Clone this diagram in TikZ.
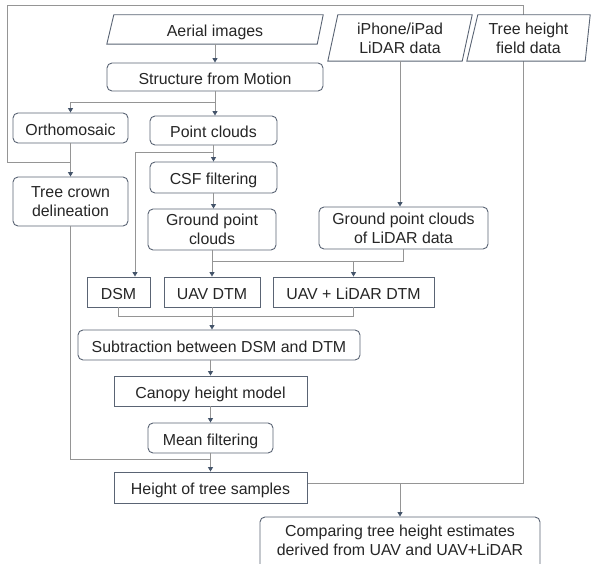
\documentclass[tikz,border=0pt]{standalone}
\usepackage{fontspec}
\setmainfont{Liberation Sans}
\usetikzlibrary{arrows.meta,calc,backgrounds}

\definecolor{boxcol}{HTML}{5A6474}
\definecolor{linecol}{HTML}{959595}
\definecolor{tipcol}{HTML}{44546A}
\definecolor{txtcol}{HTML}{262626}

\tikzset{
  base/.style={inner sep=0pt, align=center, text=txtcol,
    font=\fontsize{15.9}{19}\selectfont},
  oneline/.style={text height=14.5pt, text depth=0pt},
  rbox/.style={base, draw=boxcol, line width=0.9pt, fill=white,
    rounded corners=5pt},
  sbox/.style={base, draw=boxcol, line width=0.9pt, fill=white},
  pbox/.style={base},
  conn/.style={draw=linecol, line width=0.9pt},
  arr/.style={conn, -{Triangle[width=5pt,length=4.5pt,color=tipcol]}},
  para/.style={draw=boxcol, line width=0.9pt, fill=white},
}

\begin{document}
\begin{tikzpicture}[x=1pt, y=-1pt]
\useasboundingbox (0,0) rectangle (591,564);
\clip (0,0) rectangle (591,564);

% input data (parallelograms drawn around plain nodes)
\node[pbox, minimum width=216pt, minimum height=29pt] (aerial) at (215,29.5) {};
\node[pbox, minimum width=144pt, minimum height=46pt] (lidar) at (400,38) {};
\node[pbox, minimum width=123pt, minimum height=46pt] (field) at (528.5,38) {};
\draw[para] ([xshift=7pt]aerial.north west) -- (aerial.north east)
  -- ([xshift=-6pt]aerial.south east) -- (aerial.south west) -- cycle;
\draw[para] ([xshift=10pt]lidar.north west) -- (lidar.north east)
  -- ([xshift=-10pt]lidar.south east) -- (lidar.south west) -- cycle;
\draw[para] ([xshift=11pt]field.north west) -- (field.north east)
  -- ([xshift=-5pt]field.south east) -- (field.south west) -- cycle;
\node[base, oneline] at (aerial) {Aerial images};
\node[base] at (lidar) {iPhone/iPad\\LiDAR data};
\node[base] at (field) {Tree height\\field data};

% processing steps
\node[rbox, oneline, minimum width=216pt, minimum height=28pt] (sfm) at (215,77) {Structure from Motion};
\node[rbox, oneline, minimum width=115pt, minimum height=30pt] (ortho) at (70.5,128) {Orthomosaic};
\node[rbox, oneline, minimum width=127pt, minimum height=29pt] (pc) at (213.5,130.5) {Point clouds};
\node[rbox, oneline, minimum width=127pt, minimum height=31pt] (csf) at (213.5,177.5) {CSF filtering};
\node[rbox, minimum width=115pt, minimum height=49pt] (crown) at (70.5,201.5) {Tree crown\\delineation};
\node[rbox, minimum width=128pt, minimum height=41pt] (gpc) at (212,229.5) {Ground point\\clouds};
\node[rbox, minimum width=169pt, minimum height=42pt] (gpl) at (403.5,228) {Ground point clouds\\of LiDAR data};
\node[sbox, oneline, minimum width=63pt, minimum height=30pt] (dsm) at (118.5,292) {DSM};
\node[sbox, oneline, minimum width=96pt, minimum height=30pt] (uavdtm) at (212,292) {UAV DTM};
\node[sbox, oneline, minimum width=161pt, minimum height=30pt] (uldtm) at (353.5,292) {UAV + LiDAR DTM};
\node[rbox, oneline, minimum width=282pt, minimum height=30pt] (sub) at (219,345) {Subtraction between DSM and DTM};
\node[sbox, oneline, minimum width=193pt, minimum height=30pt] (chm) at (210.5,391) {Canopy height model};
\node[rbox, oneline, minimum width=125pt, minimum height=30pt] (mean) at (210.5,438) {Mean filtering};
\node[sbox, oneline, minimum width=193pt, minimum height=31pt] (hts) at (210.5,487.5) {Height of tree samples};
\node[rbox, minimum width=280pt, minimum height=58pt] (cmp) at (400,546)
  {Comparing tree height estimates\\derived from UAV and UAV+LiDAR\\[-7pt]\mbox{}};

% outer line linking the field data with the tree samples
\begin{scope}[on background layer]
  \draw[conn] (ortho.south |- 0,162) -- (7,162) -- (7,5) -- (523,5)
    -- (523,483) -- ([yshift=4.5pt]hts.east);
\end{scope}

% connectors
\draw[arr] (aerial.south) -- (sfm.north);
\draw[arr] (sfm.south) -- (sfm.south |- pc.north);
\draw[arr] (sfm.south) -- ++(0,11) -| (ortho.north);
\draw[arr] (ortho.south) -- (crown.north);
\draw[arr] (pc.south) -- (csf.north);
\draw[arr] (pc.south) -- ++(0,7) -| ([xshift=16.5pt]dsm.north);
\draw[arr] (csf.south) -- (csf.south |- gpc.north);
\draw[arr] (lidar.south) -- (lidar.south |- gpl.north);
\coordinate (gj) at ($(gpc.south)+(0,11)$);
\draw[arr] (gpc.south) -- (uavdtm.north);
\draw[conn] (gj) -| (gpl.south);
\draw[arr] (gj -| uldtm.north) -- (uldtm.north);
\draw[conn] (dsm.south) -- ++(0,9) -| (uldtm.south);
\draw[arr] (uavdtm.south) -- (uavdtm.south |- sub.north);
\draw[arr] (chm.north |- sub.south) -- (chm.north);
\draw[arr] (chm.south) -- (mean.north);
\draw[arr] (mean.south) -- (hts.north);
\draw[conn] (crown.south) |- ($(mean.south)+(0,6)$);
\draw[arr] (cmp.north |- 0,483) -- (cmp.north);
\end{tikzpicture}
\end{document}
